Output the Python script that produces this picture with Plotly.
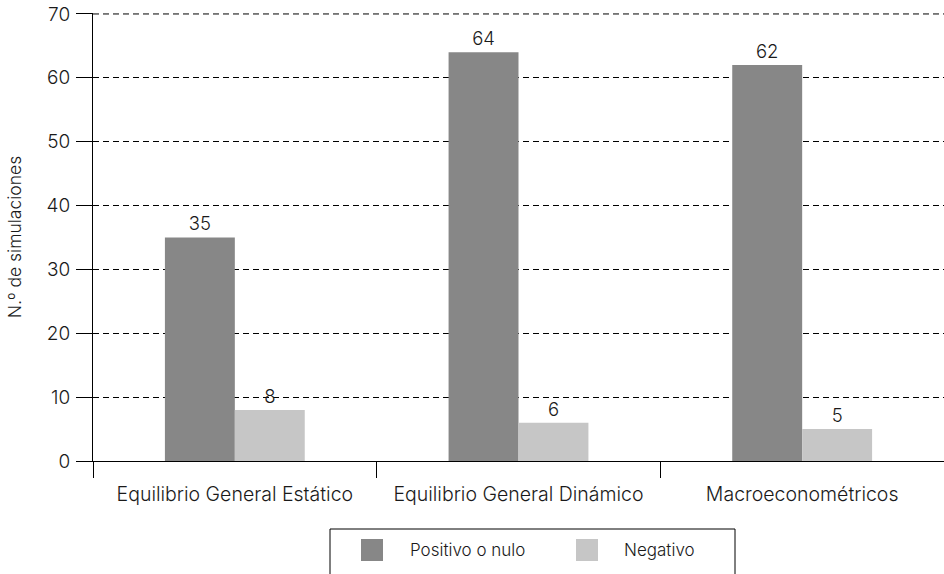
import plotly.graph_objects as go

categorias = ["Equilibrio General Estático", "Equilibrio General Dinámico", "Macroeconométricos"]
positivo = [35, 64, 62]
negativo = [8, 6, 5]
series = ["Positivo o nulo", "Negativo"]
colores = ["#878787", "#c6c6c6"]
y_ticks = [0, 10, 20, 30, 40, 50, 60, 70]

FAM = "Inter, Liberation Sans, Arial, sans-serif"
INK = "#1a1a1a"
def fuente(size):
    return dict(family=FAM, size=size, color=INK, weight=300)

fig = go.Figure()
for nombre, valores, color in zip(series, [positivo, negativo], colores):
    fig.add_trace(go.Bar(
        x=categorias, y=valores, name=nombre,
        marker=dict(color=color, line=dict(width=0)),
        text=[str(v) for v in valores], textposition="outside",
        textfont=fuente(18.5), cliponaxis=False, showlegend=False,
    ))

fig.update_layout(
    width=944, height=574,
    margin=dict(l=93, r=0, t=13, b=113, autoexpand=False),
    paper_bgcolor="white", plot_bgcolor="white",
    barmode="group", bargap=0.507, bargroupgap=0,
    font=fuente(17),
)
fig.update_xaxes(
    range=[-0.5, 2.5], showline=True, linecolor="black", linewidth=1,
    ticks="outside", tickson="boundaries", ticklen=16, tickcolor="black",
    showgrid=False, tickfont=fuente(19.5), ticklabelstandoff=16,
)
# One pixel of headroom so the top gridline sits fully inside the plot area
fig.update_yaxes(
    range=[0, max(y_ticks) + 0.15], tickvals=y_ticks, showline=True, linecolor="black", linewidth=1,
    ticks="outside", ticklen=16, tickcolor="black",
    showgrid=True, gridcolor="black", gridwidth=1, griddash="6px,4px",
    zeroline=False, tickfont=fuente(19), ticklabelstandoff=2,
    title=dict(text="N.º de simulaciones", font=fuente(17.5), standoff=20),
)

# Top gridline at the axis maximum
fig.add_shape(type="line", xref="paper", yref="y", x0=0, x1=1,
              y0=max(y_ticks), y1=max(y_ticks),
              line=dict(color="black", width=1, dash="6px,4px"), layer="below")

# Legend box drawn below the axis
H = 448
fig.add_shape(type="rect", xref="paper", yref="paper",
              x0=(330 - 93) / 851, x1=(735 - 93) / 851,
              y0=(461 - 580) / H, y1=(461 - 529) / H,
              line=dict(color="black", width=1), fillcolor="white", layer="above")
sq = [(361, 383), (576, 598)]
txt_x = [408, 622]
for (a, b), tx, nombre, color in zip(sq, txt_x, series, colores):
    fig.add_shape(type="rect", xref="paper", yref="paper",
                  x0=(a - 93) / 851, x1=(b - 93) / 851,
                  y0=(461 - 561) / H, y1=(461 - 539) / H,
                  line=dict(width=0), fillcolor=color, layer="above")
    fig.add_annotation(text=nombre, xref="paper", yref="paper",
                       x=(tx - 93) / 851, y=(461 - 550) / H,
                       xanchor="left", yanchor="middle", showarrow=False, font=fuente(17))

fig.write_html("out.html")
